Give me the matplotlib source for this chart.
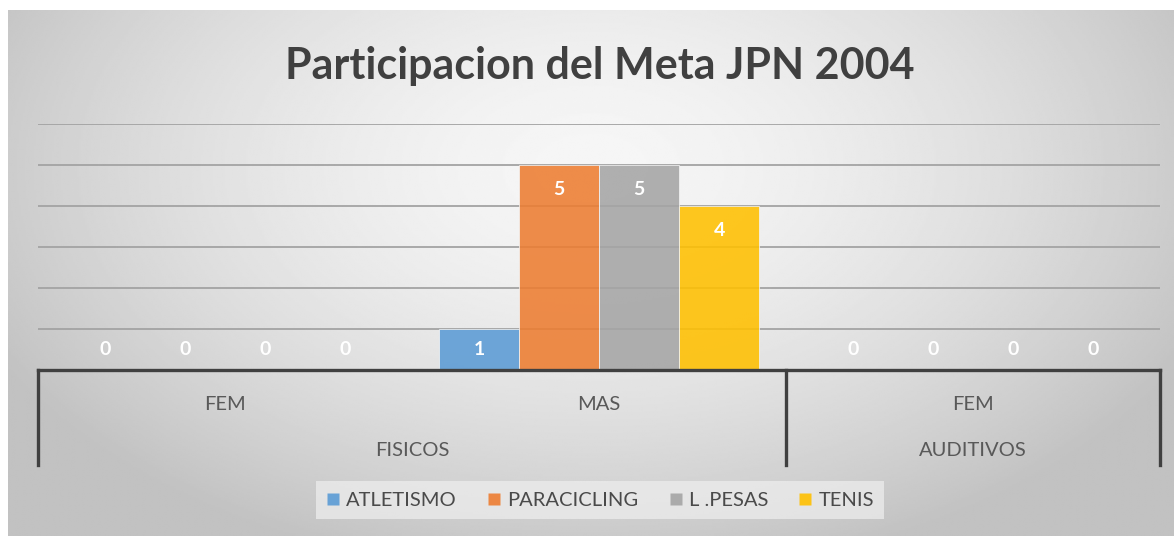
import numpy as np
import matplotlib
matplotlib.use("Agg")
import matplotlib.pyplot as plt
from matplotlib.lines import Line2D

plt.rcParams['font.family'] = ['Lato', 'DejaVu Sans']

# ---- data ----
title = "Participacion del Meta JPN 2004"
level1 = ["FEM", "MAS", "FEM"]
level2 = ["FISICOS", "AUDITIVOS"]
level2_span = [(0, 1), (2, 2)]
series_names = ["ATLETISMO", "PARACICLING", "L .PESAS", "TENIS"]
atletismo = [0, 1, 0]
paracicling = [0, 5, 0]
l_pesas = [0, 5, 0]
tenis = [0, 4, 0]
series_values = [atletismo, paracicling, l_pesas, tenis]
colors = ["#5B9BD5", "#ED7D31", "#A5A5A5", "#FFC000"]

W, H = 1174, 536
fig = plt.figure(figsize=(W / 100, H / 100), dpi=100, facecolor="white")

# background gradient panel
bg = fig.add_axes([8 / W, 0, 1 - 8 / W, 1 - 10 / H], zorder=0)
yy, xx = np.mgrid[0:1:300j, 0:1:600j]
r = np.sqrt(((xx - 0.5) / 0.55) ** 2 + ((yy - 0.3) / 0.75) ** 2)
val = np.clip(0.965 - 0.19 * r ** 1.6, 0.76, 1)
bg.imshow(val, cmap="gray", vmin=0, vmax=1, aspect="auto", extent=[0, 1, 1, 0],
          interpolation="bilinear")
bg.set_axis_off()

# main axes
x0, x1 = 38, 1160
ytop, ybase = 124, 370
ax = fig.add_axes([x0 / W, 1 - ybase / H, (x1 - x0) / W, (ybase - ytop) / H], zorder=2)
ax.patch.set_alpha(0)
ax.set_xlim(-0.5, len(level1) - 0.5)
ax.set_ylim(0, 6)
for s in ax.spines.values():
    s.set_visible(False)
ax.set_xticks([])
ax.set_yticks([])
for g in range(1, 7):
    ax.axhline(g, color="#a3a3a3", lw=1.3, zorder=1)

bw = 0.214
xs = np.arange(len(level1))
for i, (name, vals, c) in enumerate(zip(series_names, series_values, colors)):
    off = (i - 1.5) * bw
    ax.bar(xs + off, vals, width=bw, color=c, alpha=0.88, edgecolor="#f4f4f4",
           linewidth=0.6, zorder=3, label=name)
    for xv, v in zip(xs, vals):
        ly = max(v - 0.6, 0.5)
        ax.text(xv + off, ly, str(v), ha="center", va="center", color="white",
                fontsize=14, fontweight="bold", zorder=4)

# axis baseline and separators (multi-level category axis)
ax.plot([-0.5, 2.5], [0, 0], color="#404040", lw=2.4, clip_on=False, zorder=5,
        solid_capstyle="projecting")
trans = ax.get_xaxis_transform()
sep_len = (465 - 370) / (ybase - ytop)
for xb in [-0.5, 1.5, 2.5]:
    ax.plot([xb, xb], [0, -sep_len], color="#404040", lw=2.4, clip_on=False,
            transform=trans, zorder=5)

row1_y = -(405 - 370) / (ybase - ytop)
row2_y = -(450 - 370) / (ybase - ytop)
for xv, lab in zip(xs, level1):
    ax.text(xv, row1_y, lab, ha="center", va="center", transform=trans,
            fontsize=14.5, color="#595959")
for (a, b), lab in zip(level2_span, level2):
    ax.text((a + b) / 2, row2_y, lab, ha="center", va="center", transform=trans,
            fontsize=14.5, color="#595959")

# title
fig.text(600 / W, 1 - 66 / H, title, ha="center", va="center", fontsize=31,
         fontweight="bold", color="#404040")

# legend
handles = [Line2D([], [], marker="s", linestyle="none", markersize=9,
                  markerfacecolor=c, markeredgecolor="none", alpha=0.9) for c in colors]
leg = fig.legend(handles, series_names, loc="center", ncol=4,
                 bbox_to_anchor=(600 / W, 1 - 500 / H), frameon=True,
                 fancybox=False, handlelength=0.7, handletextpad=0.3,
                 columnspacing=1.5, fontsize=14.5, borderpad=0.5)
leg.get_frame().set_facecolor("#efefef")
leg.get_frame().set_edgecolor("none")
leg.get_frame().set_alpha(0.7)
for t in leg.get_texts():
    t.set_color("#4a4a4a")

fig.savefig("out.png", dpi=100, facecolor="white")
